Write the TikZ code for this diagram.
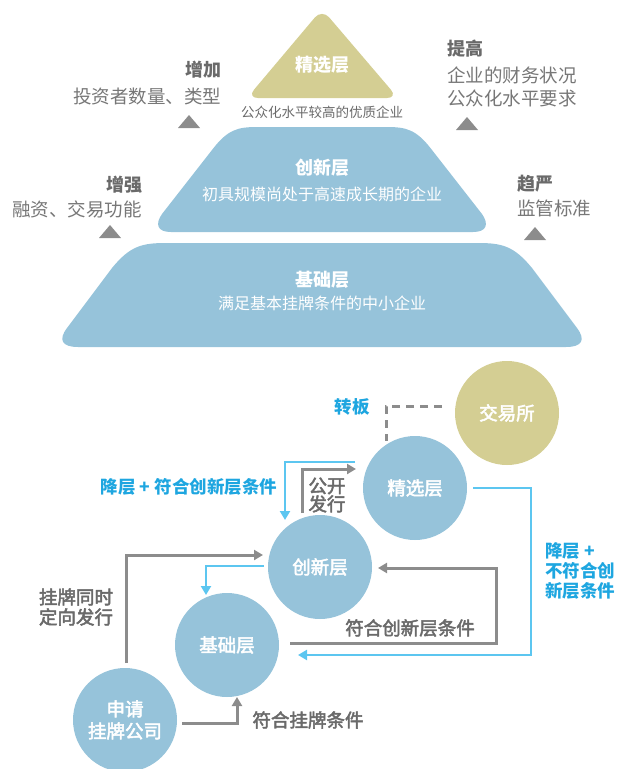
\documentclass[tikz,border=0pt]{standalone}
\usepackage{fontspec}
\setmainfont{Noto Sans CJK SC}
\newfontfamily\medfont[FakeBold=2.6]{Noto Sans CJK SC}
\usetikzlibrary{arrows.meta,calc}
\definecolor{khaki}{HTML}{D4CE93}
\definecolor{lblue}{HTML}{96C3DA}
\definecolor{tgray}{HTML}{6A6A6A}
\definecolor{sgray}{HTML}{777777}
\definecolor{lgray}{HTML}{8C8C8C}
\definecolor{cyantext}{HTML}{1EA6E0}
\definecolor{cyanline}{HTML}{5CC6F0}
\begin{document}
\begin{tikzpicture}[x=1pt,y=-1pt,
  every node/.style={inner sep=0pt, outer sep=0pt},
  circ/.style={circle, fill=lblue, minimum size=104pt, text=white, font=\medfont\fontsize{18.5}{20}\selectfont},
  ptitle/.style={text=white, font=\fontsize{18}{20}\selectfont\bfseries},
  psub/.style={text=white, font=\fontsize{16}{18}\selectfont},
  shead/.style={text=tgray, font=\fontsize{18}{20}\selectfont\bfseries},
  stext/.style={text=sgray, font=\fontsize{18.5}{20}\selectfont},
  glabel/.style={text=tgray, font=\medfont\fontsize{18.5}{20}\selectfont},
  clabel/.style={text=cyantext, font=\fontsize{17.5}{20}\selectfont\bfseries},
  garrow/.style={draw=lgray, line width=3pt, -{Triangle[length=9pt,width=10pt]}},
  carrow/.style={draw=cyanline, line width=2.6pt, -{Triangle[length=9pt,width=10pt]}},
  dashline/.style={draw=lgray, line width=3pt, dash pattern=on 8pt off 6pt},
  marker/.style={fill=lgray}
]
\useasboundingbox (0,0) rectangle (619,769);

% ---------- pyramid ----------
\fill[khaki, rounded corners=11pt] (322,98) -- (398,98) -- (322,9) -- (247,98) -- cycle;
\fill[lblue] (322,232) -- (171,232) .. controls (157,232) and (155,224) .. (162,214)
  -- (212,150) .. controls (228,129) and (238,127) .. (258,127) -- (386,127)
  .. controls (406,127) and (416,129) .. (432,150) -- (482,214)
  .. controls (489,224) and (487,232) .. (473,232) -- cycle;
\fill[lblue] (322,347) -- (78,347) .. controls (62,347) and (58,340) .. (67,328)
  -- (112,268) .. controls (130,246) and (142,243) .. (166,243) -- (478,243)
  .. controls (502,243) and (514,246) .. (532,268) -- (577,328)
  .. controls (586,340) and (582,347) .. (566,347) -- cycle;

\node[ptitle] (p1) at (322,65) {精选层};
\node[text=tgray, font=\fontsize{13.5}{15}\selectfont] (p1s) at (322,112) {公众化水平较高的优质企业};
\node[ptitle] (p2) at (322,168) {创新层};
\node[psub] (p2s) at (322,194) {初具规模尚处于高速成长期的企业};
\node[ptitle] (p3) at (322,280) {基础层};
\node[psub] (p3s) at (322,303) {满足基本挂牌条件的中小企业};

% side labels
\node[shead, anchor=east] (l1h) at (221,70) {增加};
\node[stext, anchor=east] (l1t) at (221,96) {投资者数量、类型};
\node[shead, anchor=west] (r1h) at (447,49) {提高};
\node[stext, anchor=west] (r1t) at (447,75) {企业的财务状况};
\node[stext, anchor=west] (r1u) at (447,98) {公众化水平要求};
\node[shead, anchor=east] (l2h) at (142,185) {增强};
\node[stext, anchor=east] (l2t) at (142,209) {融资、交易功能};
\node[shead, anchor=west] (r2h) at (517,184) {趋严};
\node[stext, anchor=west] (r2t) at (517,208) {监管标准};

\fill[marker] (178,128) -- (200,128) -- (189,115) -- cycle;
\fill[marker] (456,130) -- (478,130) -- (467,117) -- cycle;
\fill[marker] (99,238) -- (121,238) -- (110,225) -- cycle;
\fill[marker] (524,240) -- (546,240) -- (535,227) -- cycle;

% ---------- flow ----------
\node[circ, fill=khaki] (jys) at (507,413) {交易所};
\node[circ] (jx) at (415,488) {精选层};
\node[circ] (cx) at (320,567) {创新层};
\node[circ] (jc) at (227,645) {基础层};
\node[circ, align=center, font=\medfont\fontsize{18.5}{22}\selectfont] (sq) at (125,720) {申请\\挂牌公司};

% connector end points
\coordinate (a1) at (442,406);
\coordinate (a2) at (386,441);
\coordinate (b1) at (355,462);
\coordinate (b2) at (285,520);
\coordinate (c1) at (302,513);
\coordinate (c2) at (356,469);
\coordinate (d1) at (473,488);
\coordinate (d2) at (298,655);
\coordinate (e1) at (126,663);
\coordinate (e2) at (263,555);
\coordinate (f1) at (264,566);
\coordinate (f2) at (206,595);
\coordinate (g1) at (290,643);
\coordinate (g2) at (378,568);
\coordinate (h1) at (182,723);
\coordinate (h2) at (237,697);

\draw[dashline] (a1) -| (a2);
\draw[carrow] (b1) -| (b2);
\draw[garrow] (c1) |- (c2);
\draw[carrow] (d1) -- (531,488) |- (d2);
\draw[garrow] (e1) |- (e2);
\draw[carrow] (f1) -| (f2);
\draw[garrow] (g1) -- (496,643) |- (g2);
\draw[garrow] (h1) -| (h2);

% labels
\node[clabel] (tzb) at (352,407) {转板};
\node[clabel, anchor=east] (tjc1) at (277,487) {降层 + 符合创新层条件};
\node[glabel, align=center, font=\medfont\fontsize{18.5}{16}\selectfont] (tgk) at (327,495) {公开\\发行};
\node[glabel, align=left, anchor=east] (tgp) at (113,607) {挂牌同时\\定向发行};
\node[glabel] (tfc) at (410,628) {符合创新层条件};
\node[clabel, align=left, anchor=north west, font=\fontsize{17.5}{20}\selectfont\bfseries] (tjc2) at (545,543) {降层 +\\不符合创\\新层条件};
\node[glabel] (tfg) at (308,720) {符合挂牌条件};
\end{tikzpicture}
\end{document}
